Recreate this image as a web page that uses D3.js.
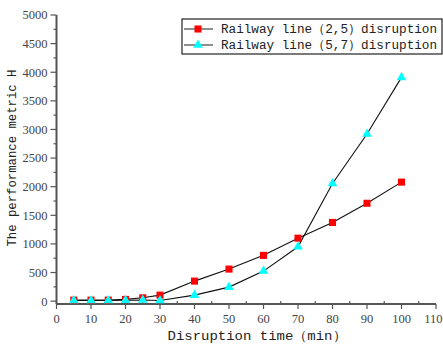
<!DOCTYPE html>
<html><head><meta charset="utf-8">
<script src="https://cdn.jsdelivr.net/npm/d3@7"></script>
<style>body{margin:0;background:#fff}svg{display:block}</style>
</head><body>
<svg id="c" width="443" height="345"></svg>
<script>
const times = [5,10,15,20,25,30,40,50,60,70,80,90,100];
const line25 = [18,18,18,30,58,105,350,560,800,1100,1375,1710,2080];
const line57 = [12,12,12,15,20,10,105,245,525,950,2055,2920,3910];
const seriesNames = ["Railway line\uFF082,5\uFF09disruption","Railway line\uFF085,7\uFF09disruption"];
const xTicks = [0,10,20,30,40,50,60,70,80,90,100,110];
const yTicks = [0,500,1000,1500,2000,2500,3000,3500,4000,4500,5000];

const svg = d3.select("#c");
const x = d3.scaleLinear().domain([0,110]).range([56.5,436]);
const y = d3.scaleLinear().domain([-50,5000]).range([304,15]);
const axisCol = "#555";
const tickFont = "'Liberation Serif', serif";

// x axis
const gx = svg.append("g").attr("transform","translate(0,304)");
gx.append("line").attr("x1",x(0)).attr("x2",x(110)).attr("stroke",axisCol).attr("stroke-width",2);
gx.selectAll(".mj").data(xTicks).join("line").attr("x1",d=>x(d)).attr("x2",d=>x(d)).attr("y1",0).attr("y2",5).attr("stroke",axisCol).attr("stroke-width",1.2);
gx.selectAll(".mn").data(d3.range(5,110,10)).join("line").attr("x1",d=>x(d)).attr("x2",d=>x(d)).attr("y1",0).attr("y2",-3).attr("stroke",axisCol).attr("stroke-width",1.2);
gx.selectAll("text").data(xTicks).join("text")
  .attr("x",(d,i)=> i===xTicks.length-1 ? 442.5 : x(d)).attr("y",19)
  .attr("text-anchor",(d,i)=> i===xTicks.length-1 ? "end" : "middle")
  .attr("font-family",tickFont).attr("font-size",12.5).attr("fill","#444").text(d=>d);

// y axis
const gy = svg.append("g").attr("transform","translate(56.5,0)");
gy.append("line").attr("y1",y(-50)).attr("y2",y(5000)).attr("stroke",axisCol).attr("stroke-width",2);
gy.selectAll(".mj").data(yTicks).join("line").attr("y1",d=>y(d)).attr("y2",d=>y(d)).attr("x1",0).attr("x2",-6).attr("stroke",axisCol).attr("stroke-width",1.2);
gy.selectAll(".mn").data(d3.range(250,5000,500)).join("line").attr("y1",d=>y(d)).attr("y2",d=>y(d)).attr("x1",0).attr("x2",-3).attr("stroke",axisCol).attr("stroke-width",1.2);
gy.selectAll("text").data(yTicks).join("text").attr("x",-9).attr("y",d=>y(d)).attr("dy","0.35em").attr("text-anchor","end")
  .attr("font-family",tickFont).attr("font-size",12.5).attr("fill","#444").text(d=>d);

// titles
const monoFont = "'Liberation Mono', monospace";
svg.append("text").attr("x",257).attr("y",340).attr("text-anchor","middle").attr("font-family",monoFont)
  .attr("font-size",13).attr("fill","#222").attr("textLength",179).attr("lengthAdjust","spacingAndGlyphs").text("Disruption time\uFF08min\uFF09");
svg.append("text").attr("transform","translate(16,158) rotate(-90)").attr("text-anchor","middle").attr("font-family",monoFont)
  .attr("font-size",12.5).attr("fill","#222").attr("textLength",177).attr("lengthAdjust","spacingAndGlyphs").text("The performance metric H");

// lines
const ln = d3.line().x(d=>x(d[0])).y(d=>y(d[1]));
const d1 = times.map((t,i)=>[t,line25[i]]);
const d2 = times.map((t,i)=>[t,line57[i]]);
svg.append("path").attr("d",ln(d1)).attr("fill","none").attr("stroke","#111").attr("stroke-width",1.1);
svg.append("path").attr("d",ln(d2)).attr("fill","none").attr("stroke","#111").attr("stroke-width",1.1);

const sq = d3.symbol().type(d3.symbolSquare).size(50);
const tri = d3.symbol().type(d3.symbolTriangle).size(40);
svg.selectAll(".s1").data(d1).join("path").attr("d",sq).attr("transform",d=>`translate(${x(d[0])},${y(d[1])})`).attr("fill","#ff0000");
svg.selectAll(".s2").data(d2).join("path").attr("d",tri).attr("transform",d=>`translate(${x(d[0])},${y(d[1])})`).attr("fill","#00ffff");

// legend
const lg = svg.append("g");
lg.append("rect").attr("x",182).attr("y",19).attr("width",260).attr("height",35).attr("fill","#fff").attr("stroke","#222").attr("stroke-width",1.2);
[0,1].forEach(i=>{
  const cy = 29 + i*16;
  lg.append("line").attr("x1",184).attr("x2",213).attr("y1",cy).attr("y2",cy).attr("stroke","#333").attr("stroke-width",1.1);
  lg.append("path").attr("d", i===0 ? sq : tri).attr("transform",`translate(198,${cy})`).attr("fill", i===0?"#ff0000":"#00ffff");
  lg.append("text").attr("x",221).attr("y",cy).attr("dy","0.35em").attr("font-family",monoFont).attr("font-size",12.5)
    .attr("fill","#222").attr("textLength",216).attr("lengthAdjust","spacingAndGlyphs").text(seriesNames[i]);
});
</script>
</body></html>
